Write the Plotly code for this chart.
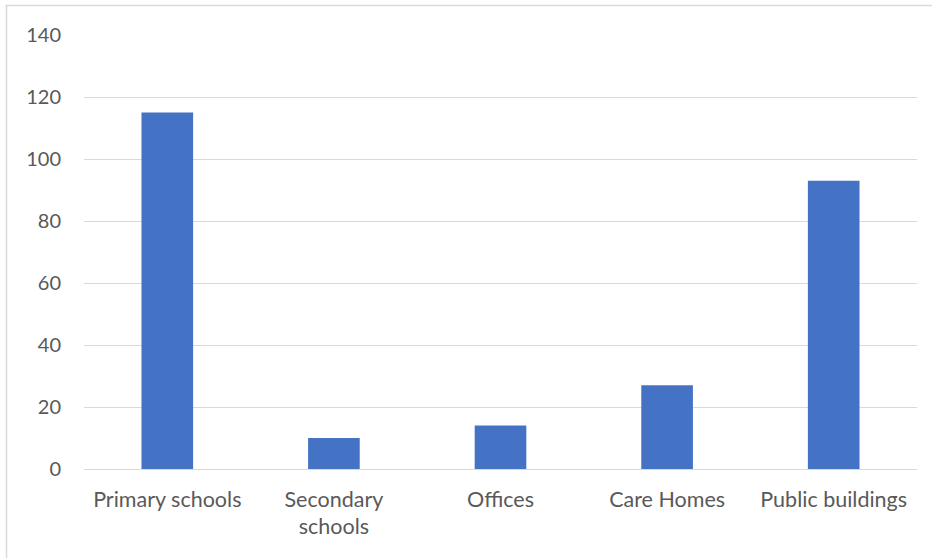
import plotly.graph_objects as go

categories = ["Primary schools", "Secondary<br>schools", "Offices", "Care Homes", "Public buildings"]
values = [115, 10, 14, 27, 93]
y_ticks = [0, 20, 40, 60, 80, 100, 120, 140]

W, H = 932, 558
L, R, T, B = 84, 15, 35, 89
pw, ph = W - L - R, H - T - B

def px_x(p):
    return (p - L) / pw

def px_y(p):
    return (H - B - p) / ph

fig = go.Figure(go.Bar(x=categories, y=values, marker=dict(color="#4472C4", line=dict(width=0))))

fig.update_layout(
    width=W, height=H,
    margin=dict(l=L, r=R, t=T, b=B, autoexpand=False),
    plot_bgcolor="white", paper_bgcolor="white",
    bargap=0.69,
    showlegend=False,
    font=dict(family="Lato", size=21, color="#595959"),
    xaxis=dict(showgrid=False, showline=False, ticks="", ticklabelstandoff=15,
               tickfont=dict(family="Lato", size=21.5, color="#595959")),
    yaxis=dict(range=[0, 140], tickvals=y_ticks, showgrid=True, gridcolor="#d9d9d9", gridwidth=1,
               zeroline=True, zerolinecolor="#d9d9d9", zerolinewidth=1, showline=False, ticks="",
               ticklabelstandoff=22, tickfont=dict(family="Lato", size=20, color="#595959")),
    shapes=[dict(type="path", xref="paper", yref="paper",
                 path=f"M {px_x(6.5)} {px_y(560)} L {px_x(6.5)} {px_y(5.5)} L {px_x(934)} {px_y(5.5)}",
                 line=dict(color="#d9d9d9", width=1.5))],
)

fig.write_html("out.html")
